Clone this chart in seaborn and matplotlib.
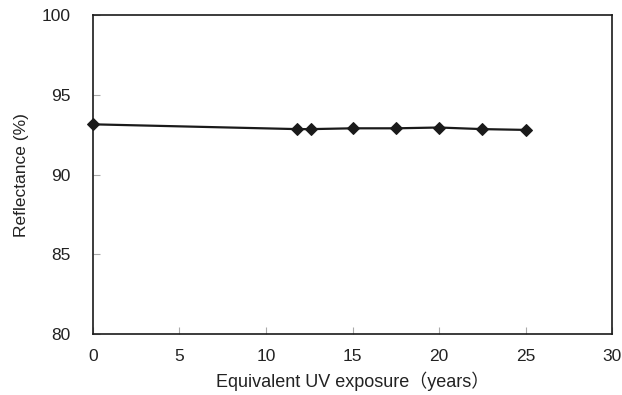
import matplotlib
matplotlib.use("Agg")
import matplotlib.pyplot as plt
import seaborn as sns
import pandas as pd

exposure_years = [0.0, 11.8, 12.6, 15.0, 17.5, 20.0, 22.5, 25.0]
reflectance = [93.15, 92.85, 92.85, 92.9, 92.9, 92.95, 92.85, 92.8]
x_ticks = [0, 5, 10, 15, 20, 25, 30]
y_ticks = [80, 85, 90, 95, 100]

sns.set_theme(style="white")
plt.rcParams['font.family'] = ['Liberation Sans', 'Noto Sans CJK JP', 'DejaVu Sans']

df = pd.DataFrame({"x": exposure_years, "y": reflectance})

fig = plt.figure(figsize=(6.22, 3.95), dpi=100)
ax = fig.add_axes([0.1495, 0.154, 0.8345, 0.808])

sns.lineplot(data=df, x="x", y="y", ax=ax, color="#1a1a1a", linewidth=1.6,
             marker="D", markersize=6, markeredgecolor="#1a1a1a",
             markerfacecolor="#1a1a1a", clip_on=False)

ax.set_xlim(0, 30)
ax.set_ylim(80, 100)
ax.set_xticks(x_ticks)
ax.set_yticks(y_ticks)
ax.tick_params(axis="both", bottom=True, left=True, direction="in", length=5,
               width=0.8, color="#aaaaaa", labelsize=12.5, labelcolor="#222222")
ax.tick_params(axis="x", pad=11)
ax.tick_params(axis="y", pad=16)
for s in ax.spines.values():
    s.set_color("#1a1a1a")
    s.set_linewidth(1.2)

ax.set_xlabel("Equivalent UV exposure（years）", fontsize=13, color="#222222", labelpad=5)
ax.set_ylabel("Reflectance (%)", fontsize=12.5, color="#222222", labelpad=9)

fig.savefig("out.png", dpi=100)
